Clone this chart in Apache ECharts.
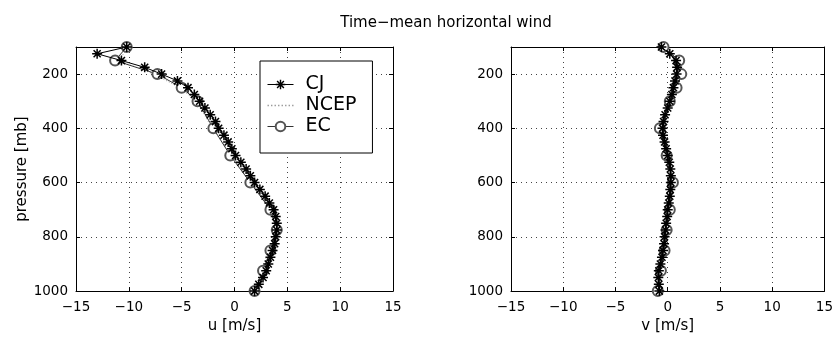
<!DOCTYPE html>
<html><head><meta charset="utf-8">
<script src="https://cdn.jsdelivr.net/npm/echarts@6/dist/echarts.min.js"></script>
<style>html,body{margin:0;padding:0;background:#fff}#c{width:836px;height:339px}</style>
</head><body><div id="c"></div>
<script>
// ---- data ----
const pressureCJ = [100,125,150,175,200,225,250,275,300,325,350,375,400,425,450,475,500,525,550,575,600,625,650,675,700,725,750,775,800,825,850,875,900,925,950,975,1000];
const uCJ = [-10.2,-13.0,-10.7,-8.5,-6.9,-5.4,-4.4,-3.8,-3.3,-2.8,-2.3,-1.8,-1.5,-1.0,-0.6,-0.25,0.1,0.6,1.1,1.5,1.9,2.4,2.9,3.3,3.7,3.9,4.0,4.0,3.9,3.8,3.6,3.4,3.2,3.0,2.7,2.3,1.9];
const vCJ = [-0.6,0.2,0.8,0.9,0.85,0.7,0.55,0.4,0.2,0.0,-0.25,-0.4,-0.5,-0.45,-0.3,-0.15,0.0,0.15,0.25,0.3,0.3,0.25,0.2,0.1,0.0,-0.05,-0.15,-0.2,-0.3,-0.35,-0.45,-0.55,-0.7,-0.85,-0.9,-0.85,-0.8];
const pressureStd = [100,150,200,250,300,400,500,600,700,775,850,925,1000];
const uEC = [-10.2,-11.3,-7.3,-5.0,-3.5,-2.0,-0.4,1.5,3.4,4.0,3.4,2.7,1.9];
const vEC = [-0.4,1.1,1.3,0.85,0.2,-0.75,-0.1,0.5,0.2,-0.1,-0.3,-0.65,-0.95];
const uNCEP = [-10.0,-11.0,-7.6,-5.2,-3.6,-2.1,-0.3,1.6,3.5,3.9,3.3,2.5,1.8];
const vNCEP = [-0.3,0.9,1.2,0.8,0.3,-0.6,0.0,0.4,0.1,-0.1,-0.3,-0.6,-0.9];
const xTicks = [-15,-10,-5,0,5,10,15];
const pTicks = [200,400,600,800,1000];
const seriesNames = ['CJ','NCEP','EC'];
const titleText = 'Time\u2212mean horizontal wind';
const xLabels = ['u [m/s]','v [m/s]'];
const yLabel = 'pressure [mb]';

const FONT = 'DejaVu Sans, Arial, Helvetica, sans-serif';
const starPath = 'path://M8.5 0L11.5 0L11.5 20L8.5 20Z M0 8.5L20 8.5L20 11.5L0 11.5Z M1.87 3.99L3.99 1.87L18.13 16.01L16.01 18.13Z M16.01 1.87L18.13 3.99L3.99 18.13L1.87 16.01Z';
const dotsIcon = 'path://M0 0h1.4v1.4h-1.4Z M3.5 0h1.4v1.4h-1.4Z M7 0h1.4v1.4h-1.4Z M10.5 0h1.4v1.4h-1.4Z M14 0h1.4v1.4h-1.4Z M17.5 0h1.4v1.4h-1.4Z M21 0h1.4v1.4h-1.4Z M24.5 0h1.4v1.4h-1.4Z';
const minus = v => String(v).replace('-', '\u2212');
const grids = [
  {left: 76, top: 47, width: 317, height: 249},
  {left: 511, top: 47, width: 318, height: 249}
];
const gridLine = {show: true, lineStyle: {color: '#444', width: 1, type: [1, 4]}};
const xAxes = [], yAxes = [];
[0,1].forEach(g => {
  xAxes.push({gridIndex: g, type: 'value', min: xTicks[0], max: xTicks[xTicks.length-1], interval: 5, position: 'bottom',
    name: xLabels[g], nameLocation: 'middle', nameGap: 25,
    nameTextStyle: {fontFamily: FONT, fontSize: 15, color: '#000'},
    axisLine: {show: true, onZero: false, lineStyle: {color: '#000', width: 1}},
    axisTick: {show: true, inside: true, length: 4, lineStyle: {color: '#000'}},
    axisLabel: {show: true, margin: 9, fontFamily: FONT, fontSize: 13.5, color: '#000', formatter: minus},
    splitLine: gridLine});
  xAxes.push({gridIndex: g, type: 'value', min: xTicks[0], max: xTicks[xTicks.length-1], interval: 5, position: 'top',
    axisLine: {show: true, onZero: false, lineStyle: {color: '#000', width: 1}},
    axisTick: {show: true, inside: true, length: 4, lineStyle: {color: '#000'}},
    axisLabel: {show: false}, splitLine: {show: false}});
  yAxes.push({gridIndex: g, type: 'value', inverse: true, min: 100, max: 1000, position: 'left',
    name: g === 0 ? yLabel : '', nameLocation: 'middle', nameGap: 46, nameRotate: 90,
    nameTextStyle: {fontFamily: FONT, fontSize: 15, color: '#000'},
    axisLine: {show: true, onZero: false, lineStyle: {color: '#000', width: 1}},
    axisTick: {show: true, inside: true, length: 4, customValues: pTicks, lineStyle: {color: '#000'}},
    axisLabel: {show: true, margin: 8, customValues: pTicks, fontFamily: FONT, fontSize: 13.5, color: '#000', formatter: v => String(v)},
    splitLine: gridLine});
  yAxes.push({gridIndex: g, type: 'value', inverse: true, min: 100, max: 1000, position: 'right',
    axisLine: {show: true, onZero: false, lineStyle: {color: '#000', width: 1}},
    axisTick: {show: true, inside: true, length: 4, customValues: pTicks, lineStyle: {color: '#000'}},
    axisLabel: {show: false}, splitLine: {show: false}});
});
const pairs = (xs, ps) => xs.map((x, i) => [x, ps[i]]);
const series = [];
[[uNCEP, uEC, uCJ], [vNCEP, vEC, vCJ]].forEach((set, g) => {
  series.push({name: 'NCEP', type: 'line', xAxisIndex: 2*g, yAxisIndex: 2*g, data: pairs(set[0], pressureStd),
    symbol: 'none', lineStyle: {color: '#9a9a9a', width: 1, type: [1, 2]}, itemStyle: {color: '#9a9a9a'}, z: 2, silent: true, animation: false});
  series.push({name: 'EC', type: 'line', xAxisIndex: 2*g, yAxisIndex: 2*g, data: pairs(set[1], pressureStd),
    symbol: 'emptyCircle', symbolSize: 10, lineStyle: {color: '#333', width: 1},
    itemStyle: {color: '#555', borderColor: '#555', borderWidth: 1}, z: 3, silent: true, animation: false});
  series.push({name: 'CJ', type: 'line', xAxisIndex: 2*g, yAxisIndex: 2*g, data: pairs(set[2], pressureCJ),
    symbol: starPath, symbolSize: 10, lineStyle: {color: '#000', width: 1},
    itemStyle: {color: '#000'}, z: 4, silent: true, animation: false});
});
const chart = echarts.init(document.getElementById('c'), null, {renderer: 'canvas'});
chart.setOption({
  animation: false,
  backgroundColor: '#fff',
  title: {text: titleText, left: 441, top: 11, textAlign: 'center',
    textStyle: {fontFamily: FONT, fontSize: 15, fontWeight: 'normal', color: '#000'}},
  legend: {data: [{name: 'CJ'}, {name: 'NCEP', icon: dotsIcon}, {name: 'EC'}], orient: 'vertical', left: 260, top: 61,
    backgroundColor: '#fff', borderColor: '#000', borderWidth: 1,
    padding: [14, 16, 17, 7], itemWidth: 26, itemHeight: 12, itemGap: 2,
    lineStyle: {width: 1},
    textStyle: {fontFamily: FONT, fontSize: 19, lineHeight: 19, color: '#000', padding: [0, 0, 0, 7]},
    selectedMode: false, z: 10},
  grid: grids,
  xAxis: xAxes,
  yAxis: yAxes,
  series: series
});
</script></body></html>
